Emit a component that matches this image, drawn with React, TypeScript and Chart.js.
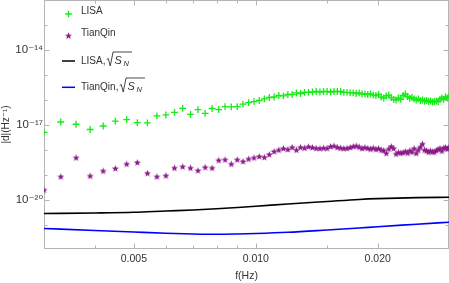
import React, { useEffect, useRef } from 'react';
import { Chart, registerables } from 'chart.js';

Chart.register(...registerables);

// ---------- data ----------
const freqs = [
  0.0030, 0.0033, 0.0036, 0.0039, 0.0042, 0.0045, 0.0048, 0.0051, 0.0054, 0.0057,
  0.0060, 0.0063, 0.0066, 0.0069, 0.0072, 0.0075, 0.0078, 0.0081, 0.0084, 0.0087,
  0.0090, 0.0093, 0.0096, 0.0099, 0.0102, 0.0105, 0.0108, 0.0111, 0.0114, 0.0117,
  0.0120, 0.0123, 0.0126, 0.0129, 0.0132, 0.0135, 0.0138, 0.0141, 0.0144, 0.0147,
  0.0150, 0.0153, 0.0156, 0.0159, 0.0162, 0.0165, 0.0168, 0.0171, 0.0174, 0.0177,
  0.0180, 0.0183, 0.0186, 0.0189, 0.0192, 0.0195, 0.0198, 0.0201, 0.0204, 0.0207,
  0.0210, 0.0213, 0.0216, 0.0219, 0.0222, 0.0225, 0.0228, 0.0231, 0.0234, 0.0237,
  0.0240, 0.0243, 0.0246, 0.0249, 0.0252, 0.0255, 0.0258, 0.0261, 0.0264, 0.0267,
  0.0270, 0.0273, 0.0276, 0.0279, 0.0282, 0.0285, 0.0288, 0.0291, 0.0294, 0.0297,
  0.0300,
];

const lisaSignal = [
  5.1e-18, 1.32e-17, 1.07e-17, 6.6e-18, 9.1e-18, 1.42e-17, 1.63e-17, 1.24e-17, 1.22e-17, 2.33e-17,
  2.56e-17, 3.22e-17, 4.66e-17, 2.68e-17, 4.09e-17, 2.94e-17, 4.57e-17, 4.1e-17, 5.4e-17, 5.3e-17,
  5.4e-17, 6.8e-17, 7.8e-17, 8.55e-17, 9.55e-17, 1.10e-16, 1.26e-16, 1.32e-16, 1.51e-16, 1.45e-16,
  1.66e-16, 1.66e-16, 1.91e-16, 1.82e-16, 2.0e-16, 2.0e-16, 2.09e-16, 2.19e-16, 2.09e-16, 2.19e-16,
  2.19e-16, 2.09e-16, 2.19e-16, 2.19e-16, 2.19e-16, 2.0e-16, 2.0e-16, 1.91e-16, 1.91e-16, 1.82e-16,
  1.91e-16, 1.74e-16, 1.74e-16, 1.66e-16, 1.74e-16, 1.58e-16, 1.51e-16, 1.66e-16, 1.32e-16, 1.20e-16,
  1.45e-16, 1.58e-16, 1.26e-16, 1.05e-16, 1.0e-16, 1.20e-16, 1.05e-16, 1.51e-16, 1.74e-16, 1.38e-16,
  1.15e-16, 1.26e-16, 1.10e-16, 1.0e-16, 1.10e-16, 9.55e-17, 1.0e-16, 9.12e-17, 9.55e-17, 8.71e-17,
  9.12e-17, 8.32e-17, 8.71e-17, 9.12e-17, 8.71e-17, 1.05e-16, 1.20e-16, 1.05e-16, 1.32e-16, 1.20e-16,
  1.38e-16,
];

const tianqinSignal = [
  2.51e-20, 8.55e-20, 4.92e-19, 9.12e-20, 1.45e-19, 1.82e-19, 2.75e-19, 3.16e-19, 1.18e-19, 8.55e-20,
  9.38e-20, 1.91e-19, 2.15e-19, 1.91e-19, 1.51e-19, 2.03e-19, 1.91e-19, 3.87e-19, 4.09e-19, 2.75e-19,
  4.09e-19, 3.47e-19, 4.37e-19, 4.88e-19, 5.5e-19, 5.11e-19, 6.61e-19, 8.71e-19, 1.0e-18, 1.15e-18,
  1.05e-18, 1.28e-18, 1.0e-18, 1.28e-18, 1.20e-18, 1.36e-18, 1.26e-18, 1.17e-18, 1.15e-18, 1.20e-18,
  1.17e-18, 1.38e-18, 1.45e-18, 1.28e-18, 1.20e-18, 1.15e-18, 1.17e-18, 1.26e-18, 1.38e-18, 1.45e-18,
  1.32e-18, 1.15e-18, 1.26e-18, 1.17e-18, 1.10e-18, 1.20e-18, 1.07e-18, 1.15e-18, 1.0e-18, 9.55e-19,
  7.38e-19, 1.10e-18, 1.38e-18, 1.15e-18, 6.92e-19, 7.94e-19, 7.59e-19, 7.80e-19, 8.71e-19, 7.59e-19,
  9.38e-19, 8.32e-19, 1.15e-18, 7.38e-19, 1.0e-18, 1.32e-18, 1.74e-18, 1.0e-18, 9.38e-19, 8.32e-19,
  9.12e-19, 8.55e-19, 8.32e-19, 9.55e-19, 1.05e-18, 1.17e-18, 9.12e-19, 1.20e-18, 1.26e-18, 1.10e-18,
  1.28e-18,
];

const curveFreqs = [0.003, 0.004, 0.005, 0.006, 0.007, 0.008, 0.009, 0.010, 0.012, 0.015, 0.018, 0.020, 0.025, 0.030];
const lisaNoise = [2.88e-21, 3.02e-21, 3.22e-21, 3.63e-21, 3.98e-21, 4.45e-21, 5.01e-21, 5.60e-21, 6.92e-21, 8.71e-21, 1.05e-20, 1.13e-20, 1.24e-20, 1.28e-20];
const tianqinNoise = [7.24e-22, 6.03e-22, 5.25e-22, 4.70e-22, 4.37e-22, 4.25e-22, 4.37e-22, 4.57e-22, 5.11e-22, 6.31e-22, 7.59e-22, 8.55e-22, 1.07e-21, 1.29e-21];

const xTickValues = [0.005, 0.01, 0.02];
const xTickLabels = ['0.005', '0.010', '0.020'];
const xMinorTicks = [0.004, 0.006, 0.007, 0.008, 0.009, 0.015, 0.03];
const yTickValues = [1e-20, 1e-17, 1e-14];
const yTickLabels = ['10\u207B\u00B2\u2070', '10\u207B\u00B9\u2077', '10\u207B\u00B9\u2074'];
const yMinorTicks = [1e-21, 1e-19, 1e-18, 1e-16, 1e-15, 1e-13];

const legendLabels = ['LISA', 'TianQin', 'LISA,', 'TianQin,'];

// ---------- style ----------
const FONT = "'Liberation Sans', 'DejaVu Sans', Arial, sans-serif";
const TEXT = '#333333';
const FRAME = '#b4b4b4';
const GREEN = 'rgb(20,235,20)';
const PURPLE = '#8a1a8a';

function makeStar(color: string, outer: number, inner: number) {
  const size = 9;
  const c = document.createElement('canvas');
  c.width = size;
  c.height = size;
  const g = c.getContext('2d')!;
  g.translate(size / 2, size / 2 + 0.3);
  g.beginPath();
  for (let k = 0; k < 10; k++) {
    const r = k % 2 === 0 ? outer : inner;
    const a = -Math.PI / 2 + (k * Math.PI) / 5;
    g.lineTo(r * Math.cos(a), r * Math.sin(a));
  }
  g.closePath();
  g.fillStyle = color;
  g.fill();
  return c;
}

function drawSqrtSN(ctx: CanvasRenderingContext2D, x: number, base: number) {
  ctx.save();
  ctx.strokeStyle = TEXT;
  ctx.lineWidth = 0.9;
  ctx.beginPath();
  ctx.moveTo(x + 0.3, base - 4);
  ctx.lineTo(x + 1.8, base - 5);
  ctx.lineTo(x + 3.8, base + 2.5);
  ctx.lineTo(x + 6.6, base - 11.5);
  ctx.lineTo(x + 25.5, base - 11.5);
  ctx.stroke();
  ctx.fillStyle = TEXT;
  ctx.textAlign = 'left';
  ctx.textBaseline = 'alphabetic';
  ctx.font = `italic 11px ${FONT}`;
  ctx.fillText('S', x + 8, base);
  ctx.font = `italic 7.5px ${FONT}`;
  ctx.fillText('N', x + 17, base + 2.5);
  ctx.restore();
}

function zeroPadding(s: any) {
  s.paddingTop = 0;
  s.paddingBottom = 0;
  s.paddingLeft = 0;
  s.paddingRight = 0;
}

export default function App() {
  const ref = useRef<HTMLCanvasElement | null>(null);

  useEffect(() => {
    document.body.style.margin = '0';
    const canvas = ref.current;
    if (!canvas) return;
    const star = makeStar(PURPLE, 3.7, 1.55);

    const framePlugin = {
      id: 'mmaFrame',
      beforeDatasetsDraw(chart: any) {
        const { ctx, chartArea: a, scales } = chart;
        const xs = scales.x;
        const ys = scales.y;
        ctx.save();
        ctx.strokeStyle = FRAME;
        ctx.lineWidth = 1;
        ctx.strokeRect(a.left + 0.5, a.top - 0.5, a.right - a.left - 1, a.bottom - a.top + 1);
        const xt = (v: number, len: number) => {
          const px = Math.round(xs.getPixelForValue(v)) + 0.5;
          ctx.moveTo(px, a.bottom + 0.5);
          ctx.lineTo(px, a.bottom + 0.5 - len);
          ctx.moveTo(px, a.top - 0.5);
          ctx.lineTo(px, a.top - 0.5 + len);
        };
        const yt = (v: number, len: number) => {
          const py = Math.round(ys.getPixelForValue(v)) + 0.5;
          ctx.moveTo(a.left + 0.5, py);
          ctx.lineTo(a.left + 0.5 + len, py);
          ctx.moveTo(a.right - 0.5, py);
          ctx.lineTo(a.right - 0.5 - len, py);
        };
        ctx.beginPath();
        xTickValues.forEach((v) => xt(v, 5));
        xMinorTicks.forEach((v) => xt(v, 3));
        yTickValues.forEach((v) => yt(v, 5));
        yMinorTicks.forEach((v) => yt(v, 3));
        ctx.stroke();
        ctx.restore();
      },
    };

    const legendPlugin = {
      id: 'mmaLegend',
      afterDraw(chart: any) {
        const ctx: CanvasRenderingContext2D = chart.ctx;
        const ds = chart.data.datasets;
        ctx.save();
        const mx = 68.5;
        const tx = 81;
        const bases = [14, 36, 63.5, 89.5];
        ctx.strokeStyle = ds[0].borderColor;
        ctx.lineWidth = 1.3;
        ctx.beginPath();
        ctx.moveTo(mx - 3.3, 14);
        ctx.lineTo(mx + 3.3, 14);
        ctx.moveTo(mx, 10.7);
        ctx.lineTo(mx, 17.3);
        ctx.stroke();
        ctx.drawImage(star, mx - star.width / 2, 35.7 - star.height / 2);
        ctx.lineWidth = 1.5;
        ctx.strokeStyle = ds[2].borderColor;
        ctx.beginPath();
        ctx.moveTo(62, 61);
        ctx.lineTo(75, 61);
        ctx.stroke();
        ctx.strokeStyle = ds[3].borderColor;
        ctx.beginPath();
        ctx.moveTo(62, 87.3);
        ctx.lineTo(75, 87.3);
        ctx.stroke();
        ctx.fillStyle = TEXT;
        ctx.font = `10px ${FONT}`;
        ctx.textAlign = 'left';
        ctx.textBaseline = 'alphabetic';
        legendLabels.forEach((t, i) => {
          ctx.fillText(t, tx, bases[i]);
          if (i >= 2) {
            const w = ctx.measureText(t).width;
            drawSqrtSN(ctx, tx + w + 1, bases[i]);
            ctx.font = `10px ${FONT}`;
            ctx.fillStyle = TEXT;
          }
        });
        ctx.restore();
      },
    };

    const chart = new Chart(canvas, {
      type: 'scatter',
      data: {
        datasets: [
          {
            label: 'LISA',
            data: freqs.map((f, i) => ({ x: f, y: lisaSignal[i] })),
            showLine: false,
            pointStyle: 'cross',
            pointRadius: 3.4,
            borderColor: GREEN,
            backgroundColor: GREEN,
            borderWidth: 1.3,
          },
          {
            label: 'TianQin',
            data: freqs.map((f, i) => ({ x: f, y: tianqinSignal[i] })),
            showLine: false,
            pointStyle: star as any,
            pointRadius: 4,
            borderColor: PURPLE,
            backgroundColor: PURPLE,
          },
          {
            label: 'LISA,√S_N',
            data: curveFreqs.map((f, i) => ({ x: f, y: lisaNoise[i] })),
            showLine: true,
            pointRadius: 0,
            borderColor: '#000000',
            borderWidth: 1.6,
            tension: 0.4,
            cubicInterpolationMode: 'monotone',
          },
          {
            label: 'TianQin,√S_N',
            data: curveFreqs.map((f, i) => ({ x: f, y: tianqinNoise[i] })),
            showLine: true,
            pointRadius: 0,
            borderColor: '#0000ff',
            borderWidth: 1.6,
            tension: 0.4,
            cubicInterpolationMode: 'monotone',
          },
        ],
      },
      options: {
        animation: false,
        responsive: false,
        maintainAspectRatio: false,
        devicePixelRatio: 1,
        layout: { autoPadding: false, padding: { top: 1, right: 0, bottom: 0, left: 0 } },
        plugins: { legend: { display: false }, tooltip: { enabled: false } },
        scales: {
          x: {
            type: 'logarithmic',
            position: 'bottom',
            min: 0.003,
            max: 0.03,
            afterBuildTicks: (s: any) => {
              s.ticks = xTickValues.map((v) => ({ value: v }));
            },
            afterFit: (s: any) => {
              s.height = 35;
              zeroPadding(s);
            },
            grid: { display: false, drawTicks: false },
            border: { display: false },
            ticks: {
              autoSkip: false,
              maxRotation: 0,
              minRotation: 0,
              padding: 5,
              color: TEXT,
              font: { family: FONT, size: 10.5 },
              callback: (_v: any, i: number) => xTickLabels[i],
            },
            title: {
              display: true,
              text: 'f(Hz)',
              color: TEXT,
              font: { family: FONT, size: 10.5 },
              padding: { top: 0, bottom: 1 },
            },
          },
          y: {
            type: 'logarithmic',
            position: 'left',
            min: 1.2e-22,
            max: 9.12e-13,
            afterBuildTicks: (s: any) => {
              s.ticks = yTickValues.map((v) => ({ value: v }));
            },
            afterFit: (s: any) => {
              s.width = 44;
              zeroPadding(s);
            },
            grid: { display: false, drawTicks: false },
            border: { display: false },
            ticks: {
              autoSkip: false,
              padding: 1,
              color: TEXT,
              font: { family: FONT, size: 11.5 },
              callback: (_v: any, i: number) => yTickLabels[i],
            },
            title: {
              display: true,
              text: '|d|(Hz\u207B\u00B9)',
              color: TEXT,
              font: { family: FONT, size: 10 },
              padding: { top: 0.5, bottom: 0 },
            },
          },
        },
      },
      plugins: [framePlugin, legendPlugin],
    } as any);

    return () => chart.destroy();
  }, []);

  return (
    <div style={{ width: 449, height: 283, background: '#fff' }}>
      <canvas ref={ref} width={449} height={283} style={{ display: 'block', width: 449, height: 283 }} />
    </div>
  );
}
